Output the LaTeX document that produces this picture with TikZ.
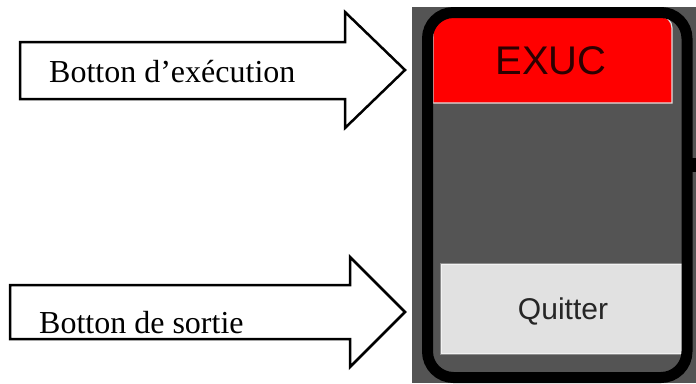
\documentclass[tikz,border=0pt]{standalone}
\usepackage{fontspec}
\setmainfont{Liberation Serif}
\newfontfamily\arialfont{Liberation Sans}
\definecolor{panelgrey}{RGB}{84,84,84}
\definecolor{btnfill}{RGB}{225,225,225}
\definecolor{exred}{RGB}{255,0,0}
\definecolor{extext}{RGB}{45,0,0}
\tikzset{
  blockarrow/.style={draw=black,fill=white,line width=2.5pt,line join=miter},
  arrowlabel/.style={font=\fontsize{32}{36}\selectfont,inner sep=0pt,anchor=base west,text=black},
  btnlabel/.style={font=\arialfont\fontsize{30}{34}\selectfont,inner sep=0pt},
}
\begin{document}
\begin{tikzpicture}[x=1pt,y=-1pt]
\useasboundingbox (0,0) rectangle (696,383);
% background panel
\fill[panelgrey] (412,7) rectangle (696,383);
% red execute button
\coordinate (exnw) at (433,16);
\coordinate (exse) at (672,103);
\draw[draw=black!12,line width=1.2pt,fill=exred] (exnw|-exse) -- (exnw) [rounded corners=12pt] -- (exse|-exnw) [sharp corners] -- (exse) -- cycle;
\node[font=\arialfont\fontsize{40}{44}\selectfont,text=extext,inner sep=0pt] (exuctext) at (551,61) {EXUC};
% quit button
\node[draw=white!95!black,line width=1.5pt,fill=btnfill,minimum width=242pt,minimum height=90pt,inner sep=0pt,anchor=north west] (quit) at (440,263) {};
\draw[black!45,line width=0.6pt] (quit.north west) rectangle (quit.south east);
\node[btnlabel,text=black!85] (quittext) at (563,311) {Quitter};
% black frame
\draw[black,line width=11pt,rounded corners=26pt] (427.5,12.5) rectangle (687,377.5);
% small tick on right
\fill[black] (691,158) rectangle (696,172);
% top arrow
\draw[blockarrow] (20,42) -- (345,42) -- (345,12) -- (405,70) -- (345,128) -- (345,99) -- (20,99) -- cycle;
\node[arrowlabel] (exec) at (49,82) {Botton d’exécution};
% bottom arrow
\draw[blockarrow] (10,285) -- (350,285) -- (350,257) -- (405,312) -- (350,367) -- (350,339) -- (10,339) -- cycle;
\node[arrowlabel] (sortie) at (39,333) {Botton de sortie};
\end{tikzpicture}
\end{document}
